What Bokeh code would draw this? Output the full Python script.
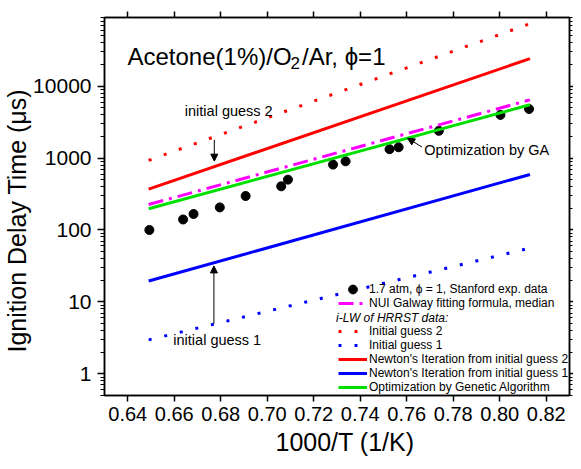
import math
from bokeh.plotting import figure
from bokeh.models import (Range1d, LogAxis, LinearAxis, FixedTicker, PrintfTickFormatter,
                          CustomJSTickFormatter, Label, Arrow, NormalHead, Legend, LegendItem,
                          Title)
from bokeh.embed import file_html
from bokeh.resources import INLINE

# ---------------- data ----------------
exp_x = [0.6493, 0.6638, 0.6683, 0.6796, 0.6907, 0.7060, 0.7089, 0.7283, 0.7337,
         0.7526, 0.7565, 0.7738, 0.8003, 0.8126]
exp_y = [100, 140, 167, 206, 297, 405, 501, 811, 901, 1327, 1413, 2390, 3980, 4810]

line_x = [0.649, 0.813]
galway_y = [226, 6440]
guess2_y = [930, 73900]
guess1_y = [2.97, 56]
newton2_y = [370, 24100]
newton1_y = [19.5, 592]
ga_y = [197, 5510]

x_ticks = [0.64, 0.66, 0.68, 0.70, 0.72, 0.74, 0.76, 0.78, 0.80, 0.82]
y_ticks = [1, 10, 100, 1000, 10000]

# ---------------- layout ----------------
W, H = 573, 461
BL, BR, BT, BB = 104, 4, 17, 66
X0, X1 = 0.63, 0.83
Y0, Y1 = 0.5, 90000
LY0, LY1 = math.log10(Y0), math.log10(Y1)
FONT = "Liberation Sans"

FX0, FX1 = BL, W - BR          # my frame in canvas px
FY0, FY1 = BT, H - BB
RX0, RX1, RY0, RY1 = 104, 577, 17, 402   # frame in the reference picture


def ax(px):   # reference x pixel -> data
    return X0 + (px - RX0) / (RX1 - RX0) * (X1 - X0)


def ay(py):   # reference y pixel -> data
    return 10 ** (LY0 + (RY1 - py) / (RY1 - RY0) * (LY1 - LY0))


def cx(px):   # canvas x pixel -> data
    return X0 + (px - FX0) / (FX1 - FX0) * (X1 - X0)


def cy(py):   # canvas y pixel -> data
    return 10 ** (LY0 + (FY1 - py) / (FY1 - FY0) * (LY1 - LY0))


p = figure(width=W, height=H, x_range=Range1d(X0, X1), y_range=Range1d(Y0, Y1),
           y_axis_type="log", output_backend="svg", toolbar_location=None,
           min_border_left=BL, min_border_right=BR, min_border_top=BT, min_border_bottom=BB,
           background_fill_color="white", border_fill_color="white")
p.grid.visible = False
p.outline_line_color = "black"
p.outline_line_width = 1.5

minor_y = [m * 10 ** e for e in range(-1, 5) for m in range(2, 10) if Y0 <= m * 10 ** e <= Y1]
yticker = FixedTicker(ticks=y_ticks, minor_ticks=minor_y)
xticker = FixedTicker(ticks=x_ticks, minor_ticks=[])

xa = p.xaxis[0]
xa.ticker = xticker
xa.formatter = PrintfTickFormatter(format="%.2f")
xa.major_label_text_font = FONT
xa.major_label_text_font_size = "20px"
xa.major_label_text_color = "black"
xa.major_tick_out = 6
xa.major_tick_in = 0
xa.minor_tick_line_color = None
xa.major_label_standoff = 5
xa.axis_line_width = 1.5
xa.major_tick_line_width = 1.5

ya = p.yaxis[0]
ya.ticker = yticker
ya.formatter = PrintfTickFormatter(format="%d")
ya.major_label_text_font = FONT
ya.major_label_text_font_size = "21px"
ya.major_label_text_color = "black"
ya.major_tick_out = 7
ya.major_tick_in = 0
ya.minor_tick_out = 4
ya.minor_tick_in = 0
ya.major_label_standoff = 6
ya.axis_line_width = 1.5
ya.major_tick_line_width = 1.5

blank = CustomJSTickFormatter(code="return ''")
top = LinearAxis(ticker=xticker, formatter=blank, major_label_text_font_size="1px",
                 major_label_standoff=0, major_tick_out=6, major_tick_in=0,
                 minor_tick_line_color=None, axis_line_width=1.5, major_tick_line_width=1.5)
p.add_layout(top, "above")
right = LogAxis(ticker=yticker, formatter=blank, major_label_text_font_size="1px",
                major_label_standoff=0, major_tick_out=4, major_tick_in=0,
                minor_tick_out=3, minor_tick_in=0, axis_line_width=1.5,
                major_tick_line_width=1.5)
p.add_layout(right, "right")

# axis titles as side-panel titles (so they can be placed along the axis)
p.add_layout(Title(text="1000/T (1/K)", align="left", offset=171, standoff=4,
                   text_font=FONT, text_font_size="25px", text_font_style="normal",
                   text_color="black"), "below")
p.add_layout(Title(text="Ignition Delay Time (\u03bcs)", align="left", offset=43, standoff=0,
                   text_font=FONT, text_font_size="25px", text_font_style="normal",
                   text_color="black"), "left")

# ---------------- marks ----------------
r_exp = p.scatter(exp_x, exp_y, size=9, color="black")
r_gal = p.line(line_x, galway_y, line_color="#ff00ff", line_width=3, line_dash="15 6 3 6")
r_g2 = p.line(line_x, guess2_y, line_color="#ff0000", line_width=3, line_dash="3 13")
r_g1 = p.line(line_x, guess1_y, line_color="#0000ff", line_width=3, line_dash="3 13")
r_n2 = p.line(line_x, newton2_y, line_color="#ff0000", line_width=3)
r_n1 = p.line(line_x, newton1_y, line_color="#0000ff", line_width=3)
r_ga = p.line(line_x, ga_y, line_color="#00e000", line_width=3)
r_dummy = p.line(line_x, ga_y, line_alpha=0)

LEG_W = 29 + 2 + 199          # glyph + standoff + longest label
leg_x = (FX1 - FX0) - 1 - LEG_W
common = dict(padding=0, spacing=0, margin=0, glyph_width=29, label_standoff=2,
              label_text_font=FONT, label_text_font_size="12px", label_text_color="black",
              background_fill_alpha=0, border_line_color=None)

legend_a = Legend(items=[
    LegendItem(label="1.7 atm, \u03d5 = 1, Stanford exp. data", renderers=[r_exp]),
], location=(leg_x, 95), label_height=14, glyph_height=22, **common)
legend_b = Legend(items=[
    LegendItem(label="NUI Galway fitting formula, median", renderers=[r_gal]),
    LegendItem(label=" ", renderers=[r_dummy]),
    LegendItem(label="Initial guess 2", renderers=[r_g2]),
    LegendItem(label="Initial guess 1", renderers=[r_g1]),
    LegendItem(label="Newton's Iteration from initial guess 2", renderers=[r_n2]),
    LegendItem(label="Newton's Iteration from initial guess 1", renderers=[r_n1]),
    LegendItem(label="Optimization by Genetic Algorithm", renderers=[r_ga]),
], location=(leg_x, 1), label_height=14, glyph_height=14, **common)
p.add_layout(legend_a)
p.add_layout(legend_b)

# ---------------- texts ----------------
def lab(x, y, text, size, **kw):
    kw.setdefault("text_baseline", "middle")
    kw.setdefault("text_align", "left")
    p.add_layout(Label(x=x, y=y, text=text, text_font=FONT, text_font_size=size,
                       text_color="black", **kw))

# title (canvas px)
lab(cx(127), cy(56), "Acetone(1%)/O", "24px", text_baseline="alphabetic")
lab(cx(290), cy(62), "2", "17px", text_baseline="alphabetic")
lab(cx(301.5), cy(56), "/Ar, \u03d5=1", "24px", text_baseline="alphabetic")

# annotations tied to the data (reference px)
lab(ax(185.7), ay(112), "initial guess 2", "14.5px")
lab(ax(174), ay(345.7), "initial guess 1", "14.5px")
lab(ax(429.3), ay(151.7), "Optimization by GA", "14.5px")

# legend sub-heading (canvas px)
lab(cx(FX0 + leg_x - 2.5), cy(FY1 - 1 - 7 - 5 * 14), "i-LW of HRRST data:", "12px",
    text_font_style="italic")

for (xs, ys, xe, ye) in [(215.7, 141.7, 215.7, 163.3), (215.3, 329, 215.3, 270),
                         (427, 149, 412.3, 140)]:
    p.add_layout(Arrow(end=NormalHead(size=7, fill_color="black", line_color="black", line_width=1),
                       x_start=ax(xs), y_start=ay(ys), x_end=ax(xe), y_end=ay(ye),
                       line_color="black", line_width=1))

open("out.html", "w").write(file_html(p, INLINE))
